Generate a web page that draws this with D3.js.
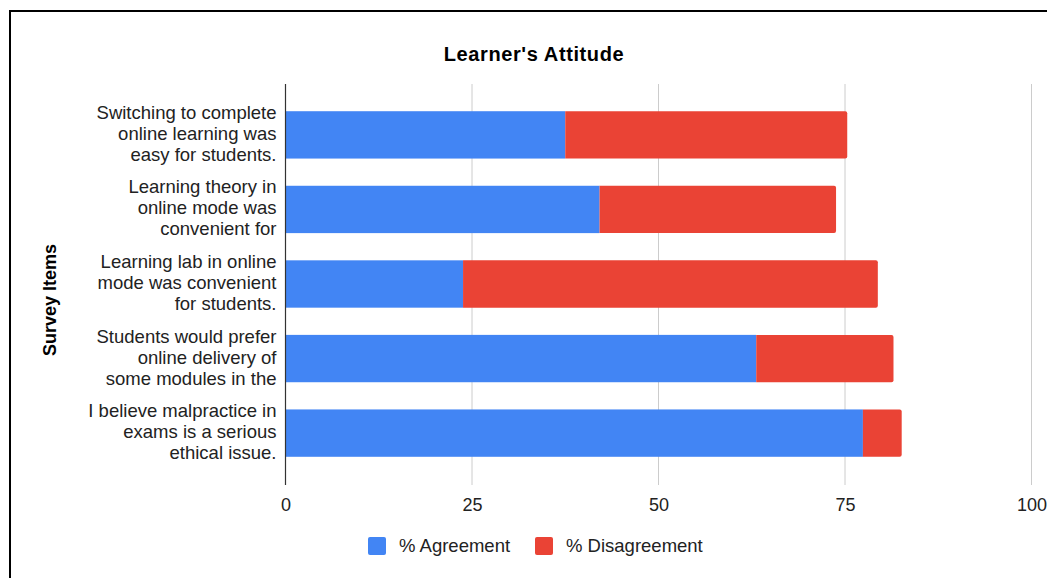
<!DOCTYPE html>
<html>
<head>
<meta charset="utf-8">
<script src="https://cdn.jsdelivr.net/npm/d3@7"></script>
<style>
  body { margin: 0; background: #fff; }
  svg { display: block; font-family: "Liberation Sans", Arial, sans-serif; }
</style>
</head>
<body>
<svg id="chart" width="1047" height="578"></svg>
<script>
// survey items, each wrapped into the lines shown on the chart
const items = [
  ["Switching to complete", "online learning was", "easy for students."],
  ["Learning theory in", "online mode was", "convenient for"],
  ["Learning lab in online", "mode was convenient", "for students."],
  ["Students would prefer", "online delivery of", "some modules in the"],
  ["I believe malpractice in", "exams is a serious", "ethical issue."]
];
const agreement = [37.5, 42.1, 23.8, 63.1, 77.4];
const disagreement = [37.8, 31.7, 55.6, 18.4, 5.2];
const seriesNames = ["% Agreement", "% Disagreement"];
const seriesColors = ["#4285F4", "#EA4335"];
const xTicks = [0, 25, 50, 75, 100];

const svg = d3.select("#chart");

const margin = { top: 84, right: 16, bottom: 94, left: 285.5 };
const width = 1031.5 - margin.left;
const height = 578 - margin.top - margin.bottom;

// outer frame
svg.append("rect")
  .attr("x", 10).attr("y", 11)
  .attr("width", 1200).attr("height", 800)
  .attr("fill", "none")
  .attr("stroke", "#000")
  .attr("stroke-width", 2);

const g = svg.append("g")
  .attr("transform", `translate(${margin.left}, ${margin.top})`);

const x = d3.scaleLinear().domain([0, 100]).range([0, width]);
const y = d3.scaleBand().domain(d3.range(items.length)).range([0, height]).padding(0.365);

// gridlines
g.append("g")
  .selectAll("line")
  .data(xTicks.slice(1))
  .join("line")
  .attr("x1", (d) => x(d)).attr("x2", (d) => x(d))
  .attr("y1", 0).attr("y2", height + 1)
  .attr("stroke", "#ccc")
  .attr("stroke-width", 1);

// x tick labels
const xAxis = g.append("g")
  .attr("transform", `translate(0, ${height})`)
  .call(d3.axisBottom(x).tickValues(xTicks).tickSize(0).tickPadding(14));
xAxis.select(".domain").remove();
xAxis.selectAll("text")
  .attr("font-size", 18)
  .attr("font-family", "Liberation Sans, Arial, sans-serif")
  .attr("fill", "#222");

// stacked bars
const rows = items.map((d, i) => ({ i, a: agreement[i], b: disagreement[i] }));

g.append("g")
  .selectAll("rect")
  .data(rows)
  .join("rect")
  .attr("x", x(0))
  .attr("y", (d) => y(d.i))
  .attr("width", (d) => x(d.a) - x(0))
  .attr("height", y.bandwidth())
  .attr("fill", seriesColors[0]);

const r = 2;
g.append("g")
  .selectAll("path")
  .data(rows)
  .join("path")
  .attr("d", (d) => {
    const x0 = x(d.a), x1 = x(d.a + d.b);
    const y0 = y(d.i), y1 = y0 + y.bandwidth();
    return `M${x0},${y0}H${x1 - r}Q${x1},${y0} ${x1},${y0 + r}V${y1 - r}Q${x1},${y1} ${x1 - r},${y1}H${x0}Z`;
  })
  .attr("fill", seriesColors[1]);

// y axis line
g.append("line")
  .attr("x1", 0).attr("x2", 0)
  .attr("y1", 0).attr("y2", height + 1)
  .attr("stroke", "#333")
  .attr("stroke-width", 1.2);

// category labels
const labels = g.append("g")
  .selectAll("text")
  .data(items)
  .join("text")
  .attr("text-anchor", "end")
  .attr("font-size", 18.5)
  .attr("fill", "#222")
  .attr("transform", (d, i) => `translate(-9, ${y(i) + y.bandwidth() / 2})`);
labels.selectAll("tspan")
  .data((d) => d)
  .join("tspan")
  .attr("x", 0)
  .attr("y", (d, j) => (j - 1) * 21 + 5)
  .text((d) => d);

// title
svg.append("text")
  .attr("x", 534).attr("y", 61)
  .attr("text-anchor", "middle")
  .attr("font-size", 20)
  .attr("font-weight", "bold")
  .attr("letter-spacing", 0.6)
  .attr("fill", "#000")
  .text("Learner's Attitude");

// y axis title
svg.append("text")
  .attr("transform", "translate(56, 300) rotate(-90)")
  .attr("text-anchor", "middle")
  .attr("font-size", 18)
  .attr("font-weight", "bold")
  .attr("fill", "#000")
  .text("Survey Items");

// legend
const legend = svg.append("g").attr("transform", "translate(368, 537)");
const legX = [0, 167];
seriesNames.forEach((name, i) => {
  const item = legend.append("g").attr("transform", `translate(${legX[i]}, 0)`);
  item.append("rect")
    .attr("width", 18).attr("height", 18)
    .attr("rx", 2)
    .attr("fill", seriesColors[i]);
  item.append("text")
    .attr("x", 31).attr("y", 15)
    .attr("font-size", 18.5)
    .attr("fill", "#222")
    .text(name);
});
</script>
</body>
</html>
